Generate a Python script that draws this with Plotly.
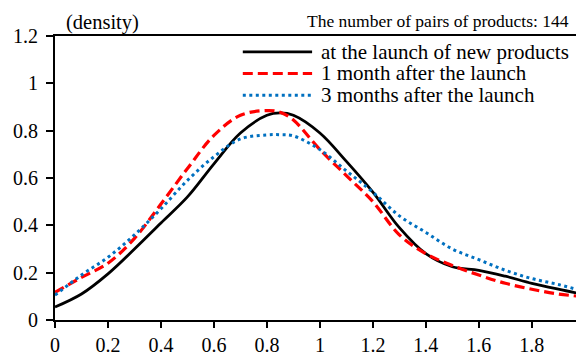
import plotly.graph_objects as go

x_vals = [0.0, 0.1, 0.2, 0.3, 0.4, 0.5, 0.6, 0.7, 0.8, 0.85, 0.9, 1.0,
          1.1, 1.2, 1.3, 1.4, 1.5, 1.6, 1.7, 1.8, 1.9, 2.0]
launch = [0.055, 0.11, 0.195, 0.30, 0.41, 0.52, 0.66, 0.79, 0.865, 0.875, 0.865, 0.79,
          0.67, 0.54, 0.39, 0.28, 0.225, 0.21, 0.185, 0.155, 0.13, 0.107]
month_1 = [0.117, 0.18, 0.24, 0.345, 0.49, 0.64, 0.78, 0.865, 0.885, 0.878, 0.845, 0.72,
           0.61, 0.50, 0.36, 0.28, 0.23, 0.19, 0.155, 0.13, 0.11, 0.098]
month_3 = [0.105, 0.19, 0.265, 0.36, 0.47, 0.59, 0.69, 0.765, 0.782, 0.783, 0.778, 0.72,
           0.63, 0.54, 0.44, 0.37, 0.30, 0.255, 0.21, 0.175, 0.15, 0.12]

series_names = [
    "at the launch of new products",
    "1 month after the launch",
    "3 months after the launch",
]
series_values = [launch, month_1, month_3]
series_styles = [
    dict(color="black", width=2.8, dash="solid"),
    dict(color="#ff0000", width=3.2, dash="10px,5px"),
    dict(color="#0070c0", width=3, dash="3px,3.5px"),
]

FONT = "Liberation Serif, Times New Roman, DejaVu Serif, serif"

fig = go.Figure()
for name, values, style in zip(series_names, series_values, series_styles):
    fig.add_trace(go.Scatter(x=x_vals, y=values, name=name, mode="lines",
                             line=dict(shape="spline", **style)))

# the page has an 8px body margin, so the figure is 8px smaller than the window
fig.update_layout(
    width=576,
    height=348,
    margin=dict(l=47, r=0, t=28, b=33),
    plot_bgcolor="white",
    paper_bgcolor="white",
    font=dict(family=FONT, size=20, color="black"),
    showlegend=False,
    xaxis=dict(
        range=[0, 1.997], tickvals=[0, 0.2, 0.4, 0.6, 0.8, 1, 1.2, 1.4, 1.6, 1.8],
        ticktext=["0", "0.2", "0.4", "0.6", "0.8", "1", "1.2", "1.4", "1.6", "1.8"],
        showgrid=False, zeroline=False, showline=True, linecolor="black", linewidth=2,
        mirror=True, ticks="outside", ticklen=6, tickwidth=2, tickcolor="black",
    ),
    yaxis=dict(
        range=[0, 1.2], tickvals=[0, 0.2, 0.4, 0.6, 0.8, 1, 1.2],
        ticktext=["0", "0.2", "0.4", "0.6", "0.8", "1", "1.2"],
        showgrid=False, zeroline=False, showline=True, linecolor="black", linewidth=2,
        ticks="outside", ticklen=7, tickwidth=2, tickcolor="black",
        ticklabelstandoff=4,
    ),
)

# legend drawn by hand so the rows sit as tight as in the original
legend_rows = [0.944, 0.868, 0.791]
for name, style, row in zip(series_names, series_styles, legend_rows):
    fig.add_shape(type="line", xref="paper", yref="paper", x0=0.355, x1=0.486,
                  y0=row, y1=row, line=style)
    fig.add_annotation(text=name, xref="paper", yref="paper", x=0.499, y=row,
                       xanchor="left", yanchor="middle", showarrow=False,
                       font=dict(size=21))

fig.add_annotation(text="(density)", xref="paper", yref="paper", x=0.017, y=1.049,
                   xanchor="left", yanchor="middle", showarrow=False, font=dict(size=20.5))
fig.add_annotation(text="The number of pairs of products: 144", xref="paper", yref="paper",
                   x=0.975, y=1.052, xanchor="right", yanchor="middle", showarrow=False,
                   font=dict(size=17.5))

fig.write_html("out.html")
